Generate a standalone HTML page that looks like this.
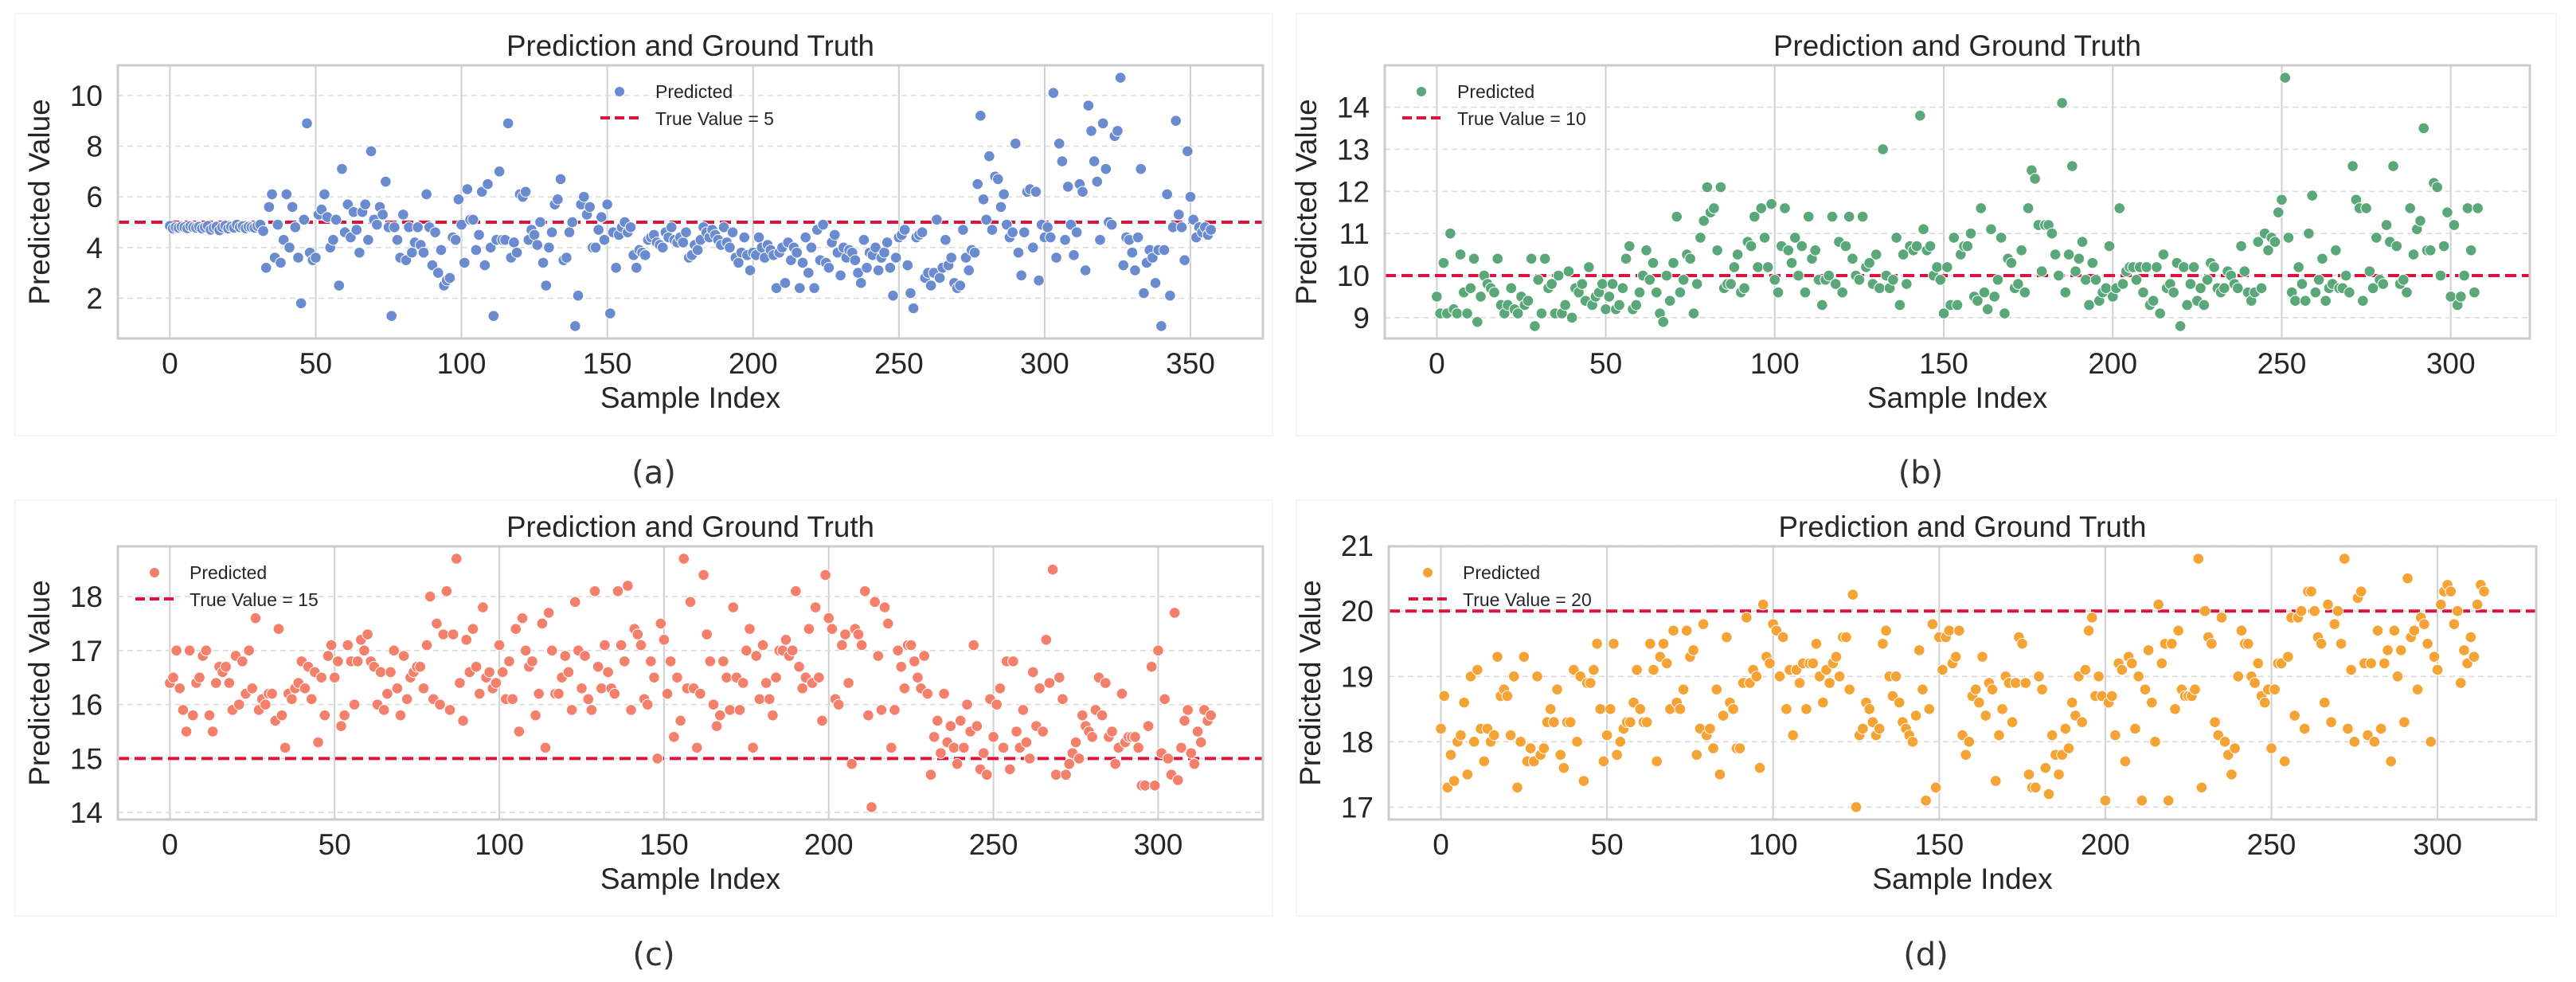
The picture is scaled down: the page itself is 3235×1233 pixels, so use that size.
<!DOCTYPE html>
<html><head><meta charset="utf-8">
<style>
html,body{margin:0;padding:0;background:#fff;}
svg{display:block;}
text{font-family:"Liberation Sans",sans-serif;fill:#262626;}
.sub{font-family:"DejaVu Sans","Liberation Sans",sans-serif;fill:#333;}
</style></head>
<body>
<svg id="fig" xmlns="http://www.w3.org/2000/svg" width="3235" height="1233" viewBox="0 0 3235 1233"></svg>
<script>
// ---------- data ----------
const seriesA = [4.85,4.75,4.8,4.78,4.82,4.8,4.76,4.84,4.8,4.78,
4.82,4.75,4.8,4.85,4.7,4.78,4.82,4.68,4.8,4.86,
4.75,4.82,4.78,4.9,4.8,4.84,4.76,4.82,4.8,4.78,
4.85,4.9,4.65,3.2,5.6,6.1,3.6,4.9,3.4,4.3,
6.1,4.0,5.6,4.8,3.6,1.8,5.1,8.9,3.8,3.5,
3.6,5.3,5.5,6.1,5.2,4.0,4.3,5.1,2.5,7.1,
4.6,5.7,4.4,5.4,4.7,3.8,5.4,5.7,4.3,7.8,
5.1,4.9,5.6,5.3,6.6,4.8,1.3,4.8,4.3,3.6,
5.3,3.5,4.8,3.8,4.2,4.8,4.1,3.8,6.1,4.8,
3.3,4.6,3.0,3.9,2.5,2.7,2.8,4.4,4.3,5.9,
4.9,3.4,6.3,5.1,5.1,3.9,4.5,6.2,3.3,6.5,
4.0,1.3,4.3,7.0,4.3,4.3,8.9,3.6,4.2,3.8,
6.1,6.0,6.2,4.3,4.7,4.5,4.1,5.0,3.4,2.5,
4.0,4.6,5.7,5.9,6.7,3.5,3.6,4.6,5.0,0.9,
2.1,5.7,6.0,5.3,5.6,4.0,4.0,4.7,5.2,4.3,
5.7,1.4,4.6,3.2,4.5,4.8,5.0,4.6,4.8,3.7,
3.2,3.9,3.8,3.7,4.3,4.4,4.5,4.2,4.1,4.0,
4.6,4.4,4.8,4.3,4.2,4.4,4.2,4.6,3.6,3.7,
4.1,3.9,4.3,4.8,4.6,4.4,4.7,4.5,4.3,4.1,
4.8,4.2,4.0,4.6,3.6,3.4,3.8,4.4,3.7,3.1,
3.8,3.7,4.4,4.0,3.6,4.1,3.9,3.7,2.4,3.8,
4.0,2.6,4.2,3.5,4.0,3.8,2.4,3.4,4.4,3.0,
4.0,2.4,4.7,3.5,4.9,3.4,3.2,4.2,4.5,3.8,
2.9,4.0,3.6,3.9,3.8,3.5,3.0,2.6,4.3,3.2,
3.8,3.7,4.0,3.1,3.6,3.8,4.2,3.2,2.1,3.6,
4.4,4.5,4.7,3.3,2.2,1.6,4.4,4.5,4.6,2.8,
3.0,2.5,3.0,5.1,2.8,3.2,4.3,3.3,3.6,2.6,
2.4,2.5,4.7,3.6,3.1,3.9,3.8,6.5,9.2,5.9,
5.1,7.6,4.7,6.8,6.7,5.6,6.1,4.9,4.4,4.6,
8.1,3.8,2.9,4.6,6.2,6.3,4.0,6.2,2.7,4.9,
4.4,4.8,4.4,10.1,3.6,8.1,7.4,4.3,6.4,4.9,
3.7,4.6,6.5,6.2,3.1,9.6,8.6,7.4,6.6,4.3,
8.9,7.1,5.0,4.9,8.4,8.6,10.7,3.3,4.4,4.3,
3.8,3.1,4.4,7.1,2.2,3.4,3.9,3.6,2.6,3.9,
0.9,3.9,6.1,2.1,4.8,9.0,5.3,4.8,3.5,7.8,
6.0,5.1,4.4,4.8,4.6,4.8,4.5,4.7];

const seriesB = [9.5,9.1,10.3,9.1,11.0,9.2,9.1,10.5,9.6,9.1,
9.7,10.4,8.9,9.5,10.0,9.8,9.7,9.6,10.4,9.3,
9.1,9.3,9.7,9.2,9.1,9.5,9.3,9.4,10.4,8.8,
9.9,9.1,10.4,9.7,9.8,9.1,10.0,9.1,9.3,10.1,
9.0,9.7,9.6,9.8,9.4,10.2,9.3,9.5,9.6,9.8,
9.2,9.5,9.8,9.2,9.3,9.7,10.4,10.7,9.2,9.3,
9.6,10.0,10.6,9.9,10.3,9.6,9.1,8.9,10.0,9.4,
10.3,11.4,9.6,9.9,10.5,10.4,9.1,9.8,10.9,11.3,
12.1,11.5,11.6,10.6,12.1,9.7,9.8,9.8,10.2,10.5,
9.6,9.7,10.8,10.7,11.4,10.2,11.6,10.9,10.2,11.7,
9.9,9.6,10.7,11.6,10.6,10.3,10.9,10.0,10.7,9.6,
11.4,10.4,10.6,9.9,9.3,9.9,10.0,11.4,9.8,10.8,
9.6,10.7,11.4,10.4,10.0,9.9,11.4,10.2,10.3,9.8,
10.5,9.7,13.0,10.0,9.7,9.9,10.9,9.3,10.5,9.8,
10.7,10.6,10.7,13.8,11.1,10.6,10.7,10.0,10.2,9.9,
9.1,10.2,9.3,10.9,9.3,10.5,10.7,10.7,11.0,9.5,
9.4,11.6,9.6,9.2,11.1,9.5,9.9,10.9,9.1,10.4,
10.3,9.7,9.8,10.6,9.6,11.6,12.5,12.3,11.2,10.1,
11.2,11.2,11.0,10.5,10.0,14.1,9.6,10.5,12.6,10.1,
10.4,10.8,9.9,9.3,10.3,9.9,9.4,9.6,9.7,10.7,
9.5,9.7,11.6,9.8,10.1,10.2,10.2,9.9,10.2,9.6,
10.2,9.3,9.4,10.2,9.1,10.5,9.7,9.8,9.6,10.3,
8.8,10.2,9.3,9.8,10.2,9.4,9.7,9.3,9.9,10.3,
10.2,9.7,9.6,9.7,10.1,10.0,9.8,9.7,10.7,10.1,
9.6,9.4,9.6,10.8,9.7,11.0,10.6,10.9,10.8,11.5,
11.8,14.7,10.9,9.6,9.4,10.2,9.8,9.4,11.0,11.9,
9.6,9.9,10.4,9.4,9.7,9.8,10.6,9.7,9.7,10.0,
9.6,12.6,11.8,11.6,9.4,11.6,10.1,9.7,10.9,9.9,
9.8,11.2,10.8,12.6,10.7,9.8,9.9,9.6,11.6,10.5,
11.1,11.3,13.5,10.6,10.6,12.2,12.1,10.0,10.7,11.5,
9.5,11.2,9.3,9.5,10.0,11.6,10.6,9.6,11.6];

const seriesC = [16.4,16.5,17.0,16.3,15.9,15.5,17.0,15.8,16.4,16.5,
16.9,17.0,15.8,15.5,16.4,16.7,16.6,16.7,16.4,15.9,
16.9,16.0,16.8,16.2,17.0,16.3,17.6,15.9,16.1,16.0,
16.2,16.2,15.7,17.4,15.8,15.2,16.2,16.1,16.3,16.4,
16.8,16.3,16.7,16.1,16.6,15.3,16.5,15.8,16.9,17.1,
16.5,16.8,15.6,15.8,17.1,16.8,16.0,16.8,17.2,17.0,
17.3,16.8,16.7,16.0,16.6,15.9,16.2,16.6,17.0,16.3,
15.8,16.9,16.1,16.5,16.6,16.7,16.7,16.3,17.1,18.0,
16.1,17.5,16.0,17.3,18.1,15.9,17.3,18.7,16.4,15.7,
17.2,16.6,17.4,16.7,16.2,17.8,16.5,16.6,16.3,16.4,
17.1,16.6,16.1,16.8,16.1,17.4,15.5,17.6,17.0,16.7,
16.8,15.8,16.2,17.5,15.2,17.7,17.0,16.2,16.2,16.5,
16.9,16.6,15.9,17.9,17.0,16.3,16.9,16.1,15.9,18.1,
16.7,16.3,17.1,16.6,16.3,16.2,18.1,17.1,16.8,18.2,
15.9,17.4,17.3,17.1,16.1,16.0,16.8,16.5,15.0,17.5,
17.2,16.2,16.8,15.4,16.5,15.7,18.7,16.3,17.9,16.3,
15.2,16.2,18.4,17.3,16.8,16.0,15.6,15.8,16.8,16.5,
15.9,17.8,16.5,15.9,16.4,17.0,17.4,15.2,16.9,16.1,
17.1,16.4,16.1,15.8,16.5,17.0,17.0,17.2,16.9,17.0,
18.1,16.7,16.3,16.5,17.4,16.4,17.8,16.5,15.7,18.4,
17.6,17.4,16.1,16.0,17.1,17.3,16.4,14.9,17.4,17.3,
17.1,18.1,15.8,14.1,17.9,16.9,15.9,17.8,17.5,15.2,
15.9,17.0,16.7,16.3,17.1,17.1,16.8,16.5,16.3,16.9,
16.2,14.7,15.4,15.7,15.1,16.2,15.3,15.6,15.2,14.9,
15.7,15.2,16.0,15.5,17.1,15.6,14.8,15.1,14.7,16.1,
15.4,16.0,16.3,15.2,16.8,14.8,16.8,15.5,15.2,15.9,
15.3,15.0,16.6,15.6,16.3,15.5,17.2,16.4,18.5,14.7,
16.5,16.1,14.7,14.9,15.1,15.3,15.0,15.8,15.6,15.5,
15.4,15.9,16.5,15.8,16.4,15.4,15.5,14.9,15.2,16.2,
15.3,15.4,15.4,15.4,15.2,14.5,14.5,15.6,16.7,14.5,
17.0,15.1,16.1,15.0,14.7,17.7,14.6,15.2,15.7,15.9,
15.1,14.9,15.5,15.3,15.9,15.7,15.8];

const seriesD = [18.2,18.7,17.3,17.8,17.4,18.0,18.1,18.6,17.5,19.0,
18.0,19.1,18.2,17.7,18.2,18.0,18.1,19.3,18.7,18.8,
18.7,18.1,19.0,17.3,18.0,19.3,17.7,17.9,17.7,19.0,
17.8,17.9,18.3,18.5,18.3,18.8,17.8,17.6,18.3,18.3,
19.1,18.0,19.0,17.4,18.9,18.9,19.1,19.5,18.5,17.7,
18.1,18.5,19.5,17.8,18.0,18.2,18.3,18.3,18.6,19.1,
18.5,18.3,18.3,19.5,19.1,17.7,19.3,19.5,19.2,18.5,
19.7,18.6,18.5,18.8,19.7,19.3,19.4,17.8,18.2,19.8,
18.1,18.2,17.9,18.8,17.5,18.4,19.6,18.6,18.5,17.9,
17.9,18.9,19.9,18.9,19.1,19.0,17.6,20.1,19.3,19.2,
19.8,19.7,19.0,19.6,18.5,19.1,18.1,19.1,18.9,19.2,
18.5,19.2,19.2,19.5,19.0,18.6,19.1,18.9,19.2,19.3,
19.0,19.6,19.6,18.8,20.25,17.0,18.1,18.2,18.6,18.5,
18.3,18.1,18.2,19.5,19.7,19.0,18.7,19.0,18.6,18.3,
18.2,18.1,18.0,18.4,19.4,18.8,17.1,18.5,19.8,17.3,
19.6,19.1,19.6,19.7,19.2,19.3,19.7,18.1,17.8,18.0,
18.7,18.8,18.6,19.3,18.4,18.9,18.8,17.4,18.1,18.5,
19.0,18.9,18.3,18.9,19.6,19.5,18.9,17.5,17.3,17.3,
19.0,18.8,17.6,17.2,18.1,17.8,17.5,17.8,18.2,17.9,
18.6,18.4,19.0,18.3,19.1,19.7,19.9,18.7,19.0,18.7,
17.1,18.6,18.7,18.1,19.2,19.1,17.7,19.3,19.2,18.2,
19.0,17.1,18.8,19.4,18.6,18.0,20.1,19.2,19.5,17.1,
19.5,18.5,19.7,18.8,18.7,18.7,18.7,18.8,20.8,17.3,
20.0,19.6,19.5,18.3,18.1,19.9,18.0,17.8,17.5,17.9,
19.0,19.7,19.5,19.5,19.0,18.9,19.2,18.7,18.6,18.8,
17.9,18.8,19.2,19.2,17.7,19.3,19.9,18.4,19.9,20.0,
18.2,20.3,20.3,20.0,19.6,19.5,18.6,20.1,18.3,19.8,
20.0,19.5,20.8,18.2,19.1,18.0,20.2,20.3,19.2,18.1,
19.2,18.0,19.7,18.2,19.2,19.4,17.7,19.7,19.0,19.4,
18.3,20.5,19.6,19.7,18.8,19.9,19.8,19.5,18.0,19.3,
19.1,20.1,20.3,20.4,20.3,19.8,20.0,18.9,19.4,19.2,
19.6,19.3,20.1,20.4,20.3];

const trueValues = [5, 10, 15, 20];
const xTicksA = [0,50,100,150,200,250,300,350];
const xTicksBCD = [0,50,100,150,200,250,300];
const yTicksA = [2,4,6,8,10];
const yTicksB = [9,10,11,12,13,14];
const yTicksC = [14,15,16,17,18];
const yTicksD = [17,18,19,20,21];
const panelLabels = ["(a)","(b)","(c)","(d)"];

// ---------- drawing ----------
const NS = "http://www.w3.org/2000/svg";
const svg = document.getElementById("fig");
function mk(tag, attrs, parent){
  const e = document.createElementNS(NS, tag);
  for (const k in attrs) e.setAttribute(k, attrs[k]);
  (parent||svg).appendChild(e);
  return e;
}

const panels = [
  {key:"a", data:seriesA, tv:trueValues[0], xt:xTicksA, yt:yTicksA, color:"#6a8bcf", label:panelLabels[0],
   L:148, R:1586, T:82, B:425, legX:778, legTextX:823, box:[19,17,1598,547], subY:593},
  {key:"b", data:seriesB, tv:trueValues[1], xt:xTicksBCD, yt:yTicksB, color:"#5aa87a", label:panelLabels[1],
   L:1739, R:3177, T:82, B:425, legX:1785, legTextX:1830, box:[1628,17,3210,547], subY:593},
  {key:"c", data:seriesC, tv:trueValues[2], xt:xTicksBCD, yt:yTicksC, color:"#f4806c", label:panelLabels[2],
   L:148, R:1586, T:686, B:1029, legX:194, legTextX:238, box:[19,628,1598,1150], subY:1198},
  {key:"d", data:seriesD, tv:trueValues[3], xt:xTicksBCD, yt:yTicksD, color:"#f6a336", label:panelLabels[3],
   L:1744, R:3185, T:686, B:1029, legX:1793, legTextX:1837, box:[1628,628,3210,1150], subY:1198}
];

panels.forEach(p => {
  const g = mk("g", {});
  
  

  const n = p.data.length;
  const xmin = -(n-1)*0.05, xmax = (n-1)*1.05;
  const dmin = Math.min(...p.data), dmax = Math.max(...p.data);
  const span = dmax - dmin;
  const ymin = dmin - span*0.05, ymax = dmax + span*0.05;
  const sx = v => p.L + (v - xmin)/(xmax - xmin)*(p.R - p.L);
  const sy = v => p.B - (v - ymin)/(ymax - ymin)*(p.B - p.T);

  const frame = mk("rect", {x:p.box[0], y:p.box[1], width:p.box[2]-p.box[0], height:p.box[3]-p.box[1], fill:"none", stroke:"#f2f2f2", "stroke-width":1.5}, g);
  
  

  // grid
  p.xt.forEach(t => {
    const l = mk("line", {x1:sx(t), x2:sx(t), y1:p.T, y2:p.B, stroke:"#d0d0d0", "stroke-width":2}, g);
    
    
    const tx = mk("text", {x:sx(t), y:p.B+44, "text-anchor":"middle", "font-size":37}, g);
    tx.textContent = t;
    
    
  });
  p.yt.forEach(t => {
    const y = sy(t);
    const l = mk("line", {x1:p.L, x2:p.R, y1:y, y2:y, stroke:"#dcdcdc", "stroke-width":1.6, "stroke-dasharray":"7 5"}, g);
    
    
    const tx = mk("text", {x:p.L-19, y:y+13, "text-anchor":"end", "font-size":37}, g);
    tx.textContent = t;
    
    
  });

  // true value line
  const tl = mk("line", {x1:p.L, x2:p.R, y1:sy(p.tv), y2:sy(p.tv), stroke:"#dc143c", "stroke-width":4, "stroke-dasharray":"14 7"}, g);
  
  

  // points
  p.data.forEach((v, i) => {
    const c = mk("circle", {cx:sx(i), cy:sy(v), r:6.8, fill:p.color, stroke:"#fff", "stroke-width":1}, g);
    
    
  });

  // spines
  const sp = mk("rect", {x:p.L, y:p.T, width:p.R-p.L, height:p.B-p.T, fill:"none", stroke:"#cccccc", "stroke-width":3}, g);
  
  

  // title & axis labels
  const cx = (p.L + p.R)/2;
  const ti = mk("text", {x:cx, y:p.T-12, "text-anchor":"middle", "font-size":37, textLength:462, lengthAdjust:"spacingAndGlyphs"}, g);
  ti.textContent = "Prediction and Ground Truth";
  
  
  const xl = mk("text", {x:cx, y:p.B+87, "text-anchor":"middle", "font-size":37}, g);
  xl.textContent = "Sample Index";
  
  
  const ylx = p.L - 86, yly = (p.T + p.B)/2;
  const yl = mk("text", {x:ylx, y:yly, "text-anchor":"middle", "font-size":37, transform:`rotate(-90 ${ylx} ${yly})`}, g);
  yl.textContent = "Predicted Value";
  
  

  // legend
  const lg = mk("g", {}, g);
  
  
  const lm = mk("circle", {cx:p.legX, cy:p.T+33, r:6, fill:p.color}, lg);
  
  
  const lt1 = mk("text", {x:p.legTextX, y:p.T+41, "font-size":23}, lg);
  lt1.textContent = "Predicted";
  
  
  const ll = mk("line", {x1:p.legX-24, x2:p.legX+24, y1:p.T+66, y2:p.T+66, stroke:"#dc143c", "stroke-width":4, "stroke-dasharray":"12 6"}, lg);
  
  
  const lt2 = mk("text", {x:p.legTextX, y:p.T+75, "font-size":23}, lg);
  lt2.textContent = "True Value = " + p.tv;
  
  

  // sub caption
  const sc = mk("text", {x:cx-46, y:p.subY+14, "text-anchor":"middle", "font-size":40, class:"sub"}, g);
  sc.textContent = p.label;
  
  
});
</script>
</body></html>
